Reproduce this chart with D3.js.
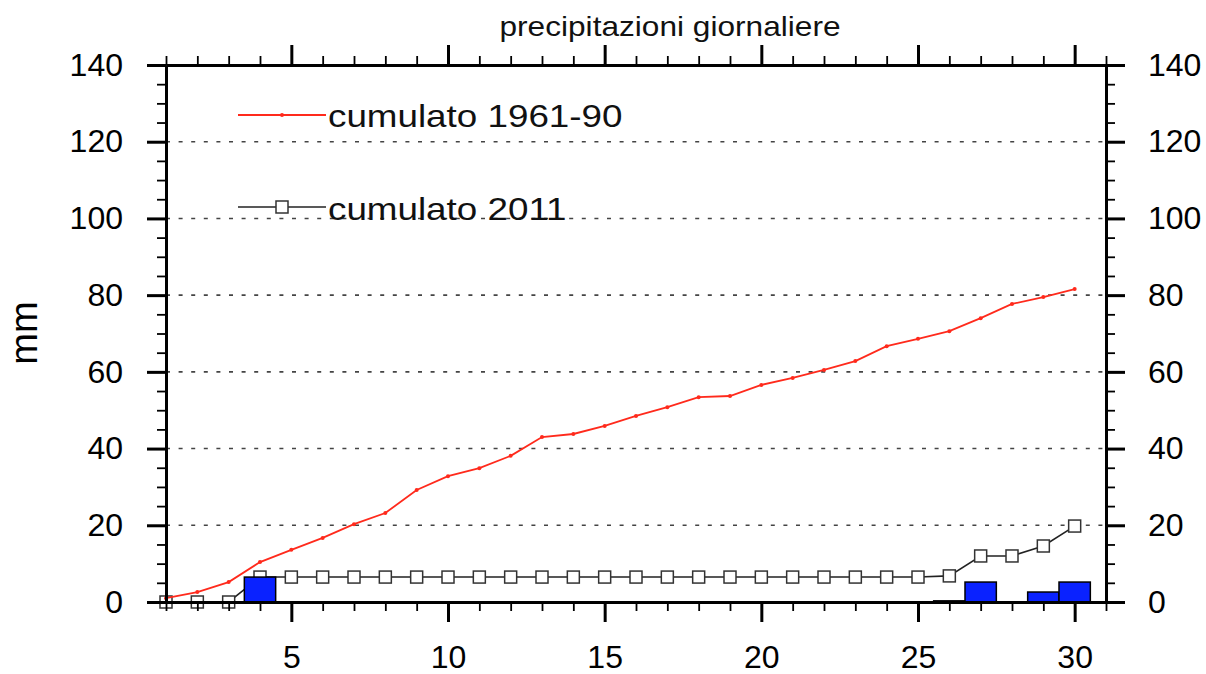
<!DOCTYPE html>
<html>
<head>
<meta charset="utf-8">
<script src="https://cdn.jsdelivr.net/npm/d3@7"></script>
<style>
  body { margin: 0; background: #fff; }
  svg { display: block; font-family: "Liberation Sans", Arial, Helvetica, sans-serif; }
</style>
</head>
<body>
<svg id="chart" width="1206" height="674"></svg>
<script>
// giorni del mese
var days = d3.range(1, 31);
// cumulato climatologico 1961-90 (mm)
var cumClima = [1, 2.6, 5.2, 10.4, 13.6, 16.7, 20.3, 23.2, 29.2, 32.8,
  34.9, 38.1, 43, 43.8, 45.9, 48.5, 50.8, 53.4, 53.7, 56.6,
  58.4, 60.5, 62.8, 66.7, 68.6, 70.6, 74, 77.7, 79.5, 81.6];
// cumulato 2011 (mm)
var cum2011 = [0, 0, 0, 6.5, 6.5, 6.5, 6.5, 6.5, 6.5, 6.5,
  6.5, 6.5, 6.5, 6.5, 6.5, 6.5, 6.5, 6.5, 6.5, 6.5,
  6.5, 6.5, 6.5, 6.5, 6.5, 6.8, 12, 12, 14.6, 19.8];
// precipitazione giornaliera 2011 (mm)
var daily2011 = [0, 0, 0, 6.5, 0, 0, 0, 0, 0, 0,
  0, 0, 0, 0, 0, 0, 0, 0, 0, 0,
  0, 0, 0, 0, 0, 0.3, 5.2, 0, 2.6, 5.2];
var xMajor = [5, 10, 15, 20, 25, 30];
var yMajor = [0, 20, 40, 60, 80, 100, 120, 140];
var yGrid = [20, 40, 60, 80, 100, 120];
var legendLabels = ['cumulato 1961-90', 'cumulato 2011'];
var titleText = 'precipitazioni giornaliere';
var yLabel = 'mm';

(function() {
  'use strict';

  var svg = d3.select('#chart');
  var plotLeft = 166, plotRight = 1106, plotTop = 65, plotBottom = 602;

  var x = d3.scaleLinear().domain([1, 31]).range([plotLeft, plotRight]);
  var y = d3.scaleLinear().domain([0, 140]).range([plotBottom, plotTop]);

  var xMinor = d3.range(1, 32).filter(function(d) { return d % 5 !== 0; });
  var yMinor = d3.range(0, 141, 5).filter(function(d) { return d % 20 !== 0; });

  var redColor = '#ff2a1c';
  var blueColor = '#0a22ff';

  // griglia tratteggiata
  svg.append('g')
    .selectAll('line')
    .data(yGrid)
    .enter().append('line')
    .attr('x1', plotLeft).attr('x2', plotRight)
    .attr('y1', function(d) { return y(d); })
    .attr('y2', function(d) { return y(d); })
    .attr('stroke', '#444')
    .attr('stroke-width', 1.6)
    .attr('stroke-dasharray', '4,8.6');

  // cumulato 2011
  var line = d3.line()
    .x(function(d, i) { return x(days[i]); })
    .y(function(d) { return y(d); });

  svg.append('path')
    .datum(cum2011)
    .attr('d', line)
    .attr('fill', 'none')
    .attr('stroke', '#222')
    .attr('stroke-width', 1.6);

  svg.append('g')
    .selectAll('rect')
    .data(cum2011)
    .enter().append('rect')
    .attr('x', function(d, i) { return x(days[i]) - 6; })
    .attr('y', function(d) { return y(d) - 6; })
    .attr('width', 12).attr('height', 12)
    .attr('fill', '#fff')
    .attr('stroke', '#333')
    .attr('stroke-width', 1.5);

  // barre giornaliere
  var barW = x(2) - x(1);
  svg.append('g')
    .selectAll('rect')
    .data(daily2011)
    .enter().append('rect')
    .attr('x', function(d, i) { return x(days[i]) - barW / 2; })
    .attr('y', function(d) { return y(d); })
    .attr('width', barW)
    .attr('height', function(d) { return y(0) - y(d); })
    .attr('fill', blueColor)
    .attr('stroke', '#000')
    .attr('stroke-width', 1.5);

  // cumulato climatologico
  svg.append('path')
    .datum(cumClima)
    .attr('d', line)
    .attr('fill', 'none')
    .attr('stroke', redColor)
    .attr('stroke-width', 1.8);

  svg.append('g')
    .selectAll('circle')
    .data(cumClima)
    .enter().append('circle')
    .attr('cx', function(d, i) { return x(days[i]); })
    .attr('cy', function(d) { return y(d); })
    .attr('r', 2)
    .attr('fill', redColor);

  // assi
  function styleAxis(g, width) {
    g.attr('font-family', '"Liberation Sans", Arial, sans-serif');
    g.selectAll('.domain').attr('stroke', '#000').attr('stroke-width', 3);
    g.selectAll('.tick line').attr('stroke', '#000').attr('stroke-width', width);
    g.selectAll('.tick text').attr('fill', '#000').attr('font-size', 32);
  }

  function noLabels(g) { g.selectAll('.tick text').remove(); }

  svg.append('g').attr('transform', 'translate(0,' + plotBottom + ')')
    .call(d3.axisBottom(x).tickValues(xMinor).tickSize(9).tickSizeOuter(0))
    .call(styleAxis, 1.8).call(noLabels);
  svg.append('g').attr('transform', 'translate(0,' + plotBottom + ')')
    .call(d3.axisBottom(x).tickValues(xMajor).tickSize(20).tickPadding(23).tickSizeOuter(0))
    .call(styleAxis, 3);

  svg.append('g').attr('transform', 'translate(0,' + plotTop + ')')
    .call(d3.axisTop(x).tickValues(xMinor).tickSize(9).tickSizeOuter(0))
    .call(styleAxis, 1.8).call(noLabels);
  svg.append('g').attr('transform', 'translate(0,' + plotTop + ')')
    .call(d3.axisTop(x).tickValues(xMajor).tickSize(20).tickSizeOuter(0))
    .call(styleAxis, 3).call(noLabels);

  svg.append('g').attr('transform', 'translate(' + plotLeft + ',0)')
    .call(d3.axisLeft(y).tickValues(yMinor).tickSize(9).tickSizeOuter(0))
    .call(styleAxis, 1.8).call(noLabels);
  svg.append('g').attr('transform', 'translate(' + plotLeft + ',0)')
    .call(d3.axisLeft(y).tickValues(yMajor).tickSize(19).tickPadding(24).tickSizeOuter(0))
    .call(styleAxis, 3);

  svg.append('g').attr('transform', 'translate(' + plotRight + ',0)')
    .call(d3.axisRight(y).tickValues(yMinor).tickSize(9).tickSizeOuter(0))
    .call(styleAxis, 1.8).call(noLabels);
  svg.append('g').attr('transform', 'translate(' + plotRight + ',0)')
    .call(d3.axisRight(y).tickValues(yMajor).tickSize(19).tickPadding(23).tickSizeOuter(0))
    .call(styleAxis, 3);

  // titolo
  svg.append('text')
    .attr('transform', 'translate(670,36) scale(1.13,1)')
    .attr('text-anchor', 'middle')
    .attr('font-size', 28)
    .attr('fill', '#111')
    .text(titleText);

  // etichetta asse y
  svg.append('text')
    .attr('transform', 'translate(37,333) rotate(-90)')
    .attr('text-anchor', 'middle')
    .attr('font-size', 38)
    .attr('fill', '#000')
    .text(yLabel);

  // legenda
  var legend = svg.append('g');
  legend.append('line')
    .attr('x1', 238).attr('x2', 326).attr('y1', 115).attr('y2', 115)
    .attr('stroke', redColor).attr('stroke-width', 1.8);
  legend.append('circle')
    .attr('cx', 282).attr('cy', 115).attr('r', 2).attr('fill', redColor);
  legend.append('text')
    .attr('transform', 'translate(328,127) scale(1.15,1)')
    .attr('font-size', 32)
    .attr('fill', '#111')
    .text(legendLabels[0]);

  legend.append('line')
    .attr('x1', 238).attr('x2', 326).attr('y1', 207).attr('y2', 207)
    .attr('stroke', '#222').attr('stroke-width', 1.6);
  legend.append('rect')
    .attr('x', 276).attr('y', 201).attr('width', 12).attr('height', 12)
    .attr('fill', '#fff').attr('stroke', '#333').attr('stroke-width', 1.5);
  legend.append('text')
    .attr('transform', 'translate(328,220) scale(1.15,1)')
    .attr('font-size', 32)
    .attr('fill', '#111')
    .text(legendLabels[1]);
})();
</script>
</body>
</html>
